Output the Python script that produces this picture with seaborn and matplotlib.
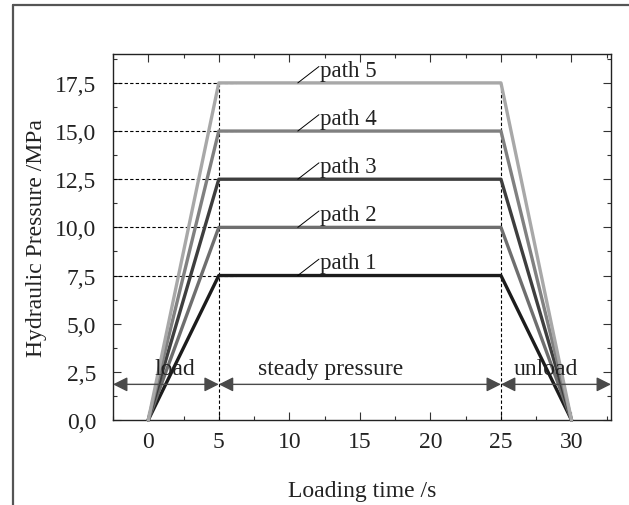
import matplotlib
matplotlib.use("Agg")
import matplotlib.pyplot as plt
from matplotlib.lines import Line2D
from matplotlib.ticker import MultipleLocator, FixedLocator, FixedFormatter
import seaborn as sns
import pandas as pd

# ---- data ----
time_points = [0, 5, 25, 30]
path_names = ["path 1", "path 2", "path 3", "path 4", "path 5"]
plateau = [7.5, 10.0, 12.5, 15.0, 17.5]
path_colors = ["#1c1c1c", "#6e6e6e", "#3e3e3e", "#808080", "#a8a8a8"]
y_ticks = [0.0, 2.5, 5.0, 7.5, 10.0, 12.5, 15.0, 17.5]
y_tick_labels = ["0,0", "2,5", "5,0", "7,5", "10,0", "12,5", "15,0", "17,5"]
x_ticks = [0, 5, 10, 15, 20, 25, 30]
phase_labels = ["load", "steady pressure", "unload"]
phase_bounds = [-2.5, 5, 25, 32.8]

rows = []
for name, p in zip(path_names, plateau):
    for t, v in zip(time_points, [0, p, p, 0]):
        rows.append({"time": t, "pressure": v, "path": name})
df = pd.DataFrame(rows)

sns.set_theme(style="ticks")
plt.rcParams["font.family"] = ["Liberation Serif", "DejaVu Serif"]

FS = 17
fig = plt.figure(figsize=(6.29, 5.06), dpi=100)
ax = fig.add_axes([113 / 629, 1 - 421 / 506, (611 - 113) / 629, (421 - 55) / 506])

# outer frame
fig.add_artist(Line2D([13 / 629, 13 / 629], [0, 1 - 6 / 506], transform=fig.transFigure,
                      color="#555555", lw=1.6))
fig.add_artist(Line2D([13 / 629, 1], [1 - 6 / 506, 1 - 6 / 506], transform=fig.transFigure,
                      color="#555555", lw=1.6))

xmin, xmax = -2.5, 32.8
ax.set_xlim(xmin, xmax)
ax.set_ylim(0, 19)

# dashed guides
for p in plateau:
    ax.plot([xmin, 6.2], [p, p], ls=(0, (3, 2)), color="black", lw=0.8, zorder=1)
for xv in [5, 25]:
    ax.plot([xv, xv], [0, max(plateau)], ls=(0, (3, 2)), color="black", lw=0.8, zorder=1)

sns.lineplot(data=df, x="time", y="pressure", hue="path", palette=path_colors,
             hue_order=path_names, lw=2.4, legend=False, ax=ax, zorder=3, sort=False)
for l in ax.lines:
    l.set_clip_on(False)

# path labels with leader lines
for name, p in zip(path_names, plateau):
    ax.plot([10.6, 12.1], [p, p + 0.85], color="black", lw=0.7, zorder=4)
    ax.text(12.2, p + 0.38, name, fontsize=16.5, ha="left", va="baseline", color="#222222")

# phase arrows
arrow_y = 1.85
label_x = [1.9, 12.9, 28.2]
for i, lab in enumerate(phase_labels):
    ax.annotate("", xy=(phase_bounds[i], arrow_y), xytext=(phase_bounds[i + 1], arrow_y),
                arrowprops=dict(arrowstyle="<|-|>", color="#4a4a4a", lw=1.0,
                                mutation_scale=22, shrinkA=0, shrinkB=0), zorder=5)
    ax.text(label_x[i], arrow_y + 0.3, lab, fontsize=FS, ha="center", va="bottom", color="#222222")

# ticks
ax.xaxis.set_major_locator(FixedLocator(x_ticks))
ax.xaxis.set_minor_locator(MultipleLocator(2.5))
ax.yaxis.set_major_locator(FixedLocator(y_ticks))
ax.yaxis.set_major_formatter(FixedFormatter(y_tick_labels))
ax.yaxis.set_minor_locator(MultipleLocator(1.25))
ax.tick_params(which="both", direction="in", top=True, right=True, colors="#333333",
               labelcolor="#222222", labelsize=FS, width=0.8)
ax.tick_params(which="major", length=6)
ax.tick_params(axis="x", which="major", pad=8)
ax.tick_params(axis="y", which="major", pad=12)
ax.tick_params(which="minor", length=3)
for s in ax.spines.values():
    s.set_linewidth(1.0)
    s.set_color("#222222")

ax.set_xlabel("Loading time /s", fontsize=FS, labelpad=20, color="#222222")
ax.set_ylabel("Hydraulic Pressure /MPa", fontsize=FS, labelpad=6, color="#222222")

fig.savefig("out.png", dpi=100)
